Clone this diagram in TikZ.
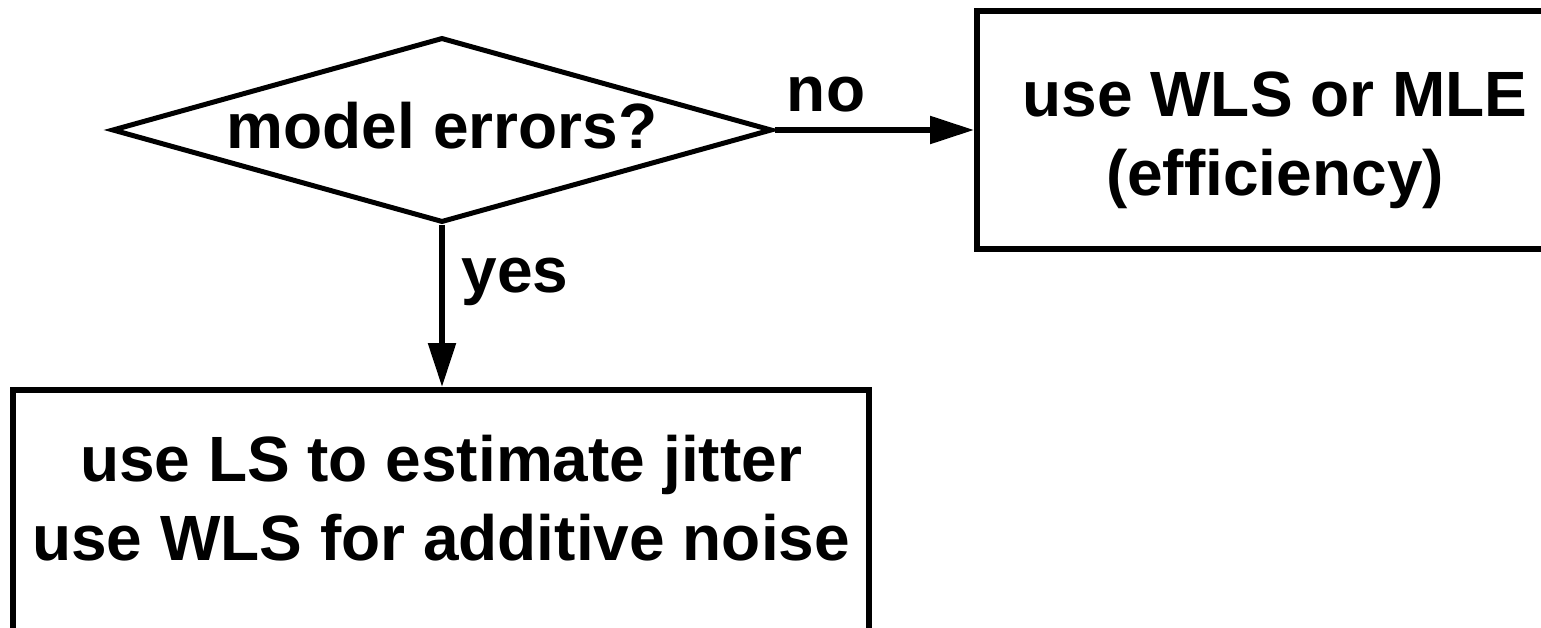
\documentclass[tikz,border=0pt]{standalone}
\usepackage{fontspec}
\setmainfont{Liberation Sans}
\usetikzlibrary{shapes.geometric,arrows.meta}
\tikzset{
  every node/.style={font=\bfseries\fontsize{64}{79}\selectfont},
  box/.style={draw, line width=6pt, rectangle, inner sep=0pt},
  txt/.style={align=center, inner sep=0pt},
  decide/.style={draw, line width=5pt, diamond, aspect=3.57, inner sep=0pt, text depth=10pt, minimum width=660pt, minimum height=185pt},
  conn/.style={line width=5.5pt, -{Triangle[length=44pt,width=27pt]}},
  lbl/.style={inner sep=0pt, anchor=base}
}
\begin{document}
\begin{tikzpicture}[x=1pt,y=-1pt]
\useasboundingbox (0,0) rectangle (1541,628);
\clip (0,0) rectangle (1541,628);
\node[decide] (d) at (442,130) {model errors?};
\node[box, minimum width=596pt, minimum height=238pt] (r) at (1275,130) {};
\node[txt] (rt) at (1275,140) {use WLS or MLE\\(efficiency)};
\node[box, minimum width=856pt, minimum height=254pt] (b) at (441,517) {};
\node[txt] (bt) at (441,498) {use LS to estimate jitter\\use WLS for additive noise};
\draw[conn] (d.east) -- (r.west);
\draw[conn] (d.south) -- (b.north -| d.south);
\node[lbl] (no) at (826,112) {no};
\node[lbl] (yes) at (515,292) {yes};
\end{tikzpicture}
\end{document}
